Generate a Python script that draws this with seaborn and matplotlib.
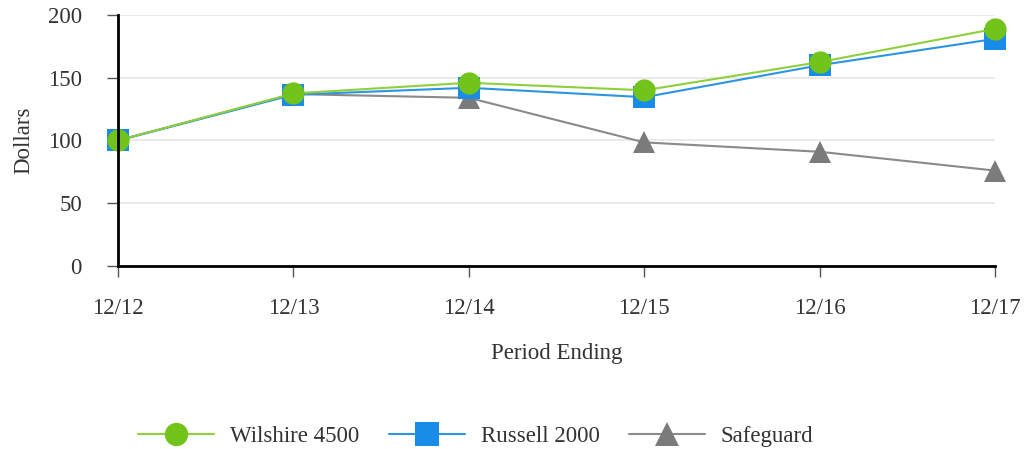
import numpy as np
import seaborn as sb
import matplotlib.pyplot as plt
import pandas as pd

perioade = ['12/12', '12/13', '12/14', '12/15', '12/16', '12/17']
wilshire = [100, 137.5, 146, 140, 162.5, 189]
russell = [100, 136.5, 142, 134.5, 160, 181]
safeguard = [100, 137, 134, 98.5, 91, 76]

serii = ['Wilshire 4500', 'Russell 2000', 'Safeguard']
culori = {'Wilshire 4500': '#8fcf3c', 'Russell 2000': '#2b95e0', 'Safeguard': '#8a8a8a'}
culori_marker = {'Wilshire 4500': '#72c31a', 'Russell 2000': '#1a8ce8', 'Safeguard': '#7b7b7b'}
markere = {'Wilshire 4500': 'o', 'Russell 2000': 's', 'Safeguard': '^'}

df = pd.DataFrame({
    'Perioada': perioade * 3,
    'Valoare': wilshire + russell + safeguard,
    'Serie': np.repeat(serii, len(perioade)),
})

sb.set_style('white')
plt.rcParams['font.family'] = ['Liberation Serif', 'DejaVu Serif']

fig = plt.figure(figsize=(10.26, 4.49), dpi=100)
ax = fig.add_axes([0.115, 0.4076, 0.855, 0.559])

# desenare in ordine inversa ca verde sa fie deasupra
for s in serii[::-1]:
    d = df[df['Serie'] == s]
    sb.lineplot(data=d, x='Perioada', y='Valoare', ax=ax, color=culori[s],
                marker=markere[s], markersize=16, markerfacecolor=culori_marker[s],
                markeredgewidth=0, linewidth=1.5, label=s, sort=False,
                clip_on=False)

ax.set_xlim(0, len(perioade) - 1)
ax.set_ylim(0, 200)
ax.set_yticks([0, 50, 100, 150, 200])
ax.grid(axis='y', color='#e6e6e6', linewidth=1.2)
ax.set_axisbelow(True)
for sp in ['top', 'right']:
    ax.spines[sp].set_visible(False)
for sp in ['left', 'bottom']:
    ax.spines[sp].set_color('black')
    ax.spines[sp].set_linewidth(2)
ax.tick_params(axis='x', direction='out', length=8, width=1, color='#555555',
               pad=15, labelsize=16.5, labelcolor='#333333', bottom=True)
ax.tick_params(axis='y', direction='out', length=8, width=1, color='#555555',
               pad=18, labelsize=16.5, labelcolor='#333333', left=True)
ax.set_xlabel('Period Ending', fontsize=16.5, color='#333333', labelpad=17)
ax.set_ylabel('Dollars', fontsize=16.5, color='#333333', labelpad=10)

h, l = ax.get_legend_handles_labels()
ax.legend(h[::-1], l[::-1], loc='center', bbox_to_anchor=(0.408, -0.68),
          ncol=3, frameon=False, fontsize=16.5, handlelength=3.3,
          columnspacing=1.3, handletextpad=0.7, labelcolor='#333333',
          markerscale=1.05)

fig.savefig('out.png', dpi=100)
